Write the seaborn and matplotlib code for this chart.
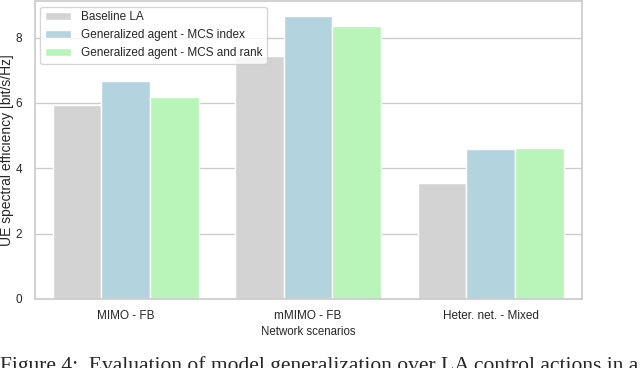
import matplotlib
matplotlib.use("Agg")
import matplotlib.pyplot as plt
import seaborn as sns
import pandas as pd

scenarios = ["MIMO - FB", "mMIMO - FB", "Heter. net. - Mixed"]
agents = ["Baseline LA", "Generalized agent - MCS index", "Generalized agent - MCS and rank"]
baseline = [5.93, 7.44, 3.55]
mcs_index = [6.66, 8.66, 4.59]
mcs_rank = [6.18, 8.37, 4.62]

df = pd.DataFrame({
    "scenario": scenarios * 3,
    "agent": [agents[0]] * 3 + [agents[1]] * 3 + [agents[2]] * 3,
    "se": baseline + mcs_index + mcs_rank,
})

sns.set_theme(style="whitegrid")
plt.rcParams["font.family"] = ["Liberation Sans", "DejaVu Sans"]

fig = plt.figure(figsize=(6.4, 3.68), dpi=100)
ax = fig.add_axes([0.054, 0.188, 0.855, 0.81])
sns.barplot(data=df, x="scenario", y="se", hue="agent", saturation=1,
            palette=["#d3d3d3", "#b3d4df", "#b9f4b9"], ax=ax)

ax.set_ylim(0, 9.13)
ax.set_yticks([0, 2, 4, 6, 8])
ax.tick_params(axis="x", labelsize=8.5, pad=2)
ax.tick_params(axis="y", labelsize=8.5, pad=3)
ax.set_xlabel("Network scenarios", fontsize=8.3, labelpad=3)
ax.set_ylabel("UE spectral efficiency [bit/s/Hz]", fontsize=10, labelpad=1)
ax.legend(loc="upper left", fontsize=8.5, frameon=True, handlelength=2.2,
          borderaxespad=0.5)
for s in ax.spines.values():
    s.set_color("#cccccc")

fig.text(0.0, 0.005, "Figure 4:  Evaluation of model generalization over LA control actions in a",
         family=["Liberation Serif", "DejaVu Serif"], fontsize=15.5, va="center", ha="left")

fig.savefig("out.png", dpi=100)
